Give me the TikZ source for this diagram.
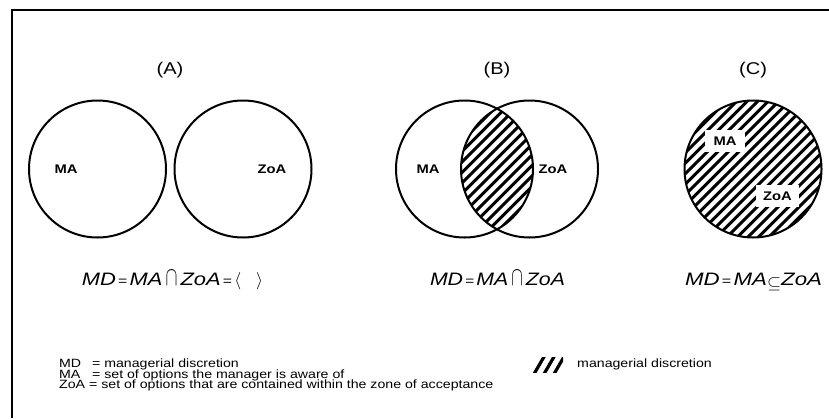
\documentclass[tikz,border=0pt]{standalone}
\usepackage{fontspec}
\setmainfont{Liberation Sans}
\newfontfamily\widesans[FakeStretch=1.18]{Liberation Sans}
\usepackage{graphicx}
\usepackage{calc}
% small equals sign and cap-high intersection sign used in the set formulas
\newcommand{\eqsign}{{\fontsize{13}{13}\selectfont\upshape\,=\,}}
\newcommand{\tallcap}{\,\scalebox{1}[1.55]{$\cap$}\,}
\tikzset{
  ring/.style={line width=2pt},
  hatchline/.style={line width=3pt},
  title/.style={font=\widesans\fontsize{17}{17}\selectfont, inner sep=0pt},
  setname/.style={font=\widesans\bfseries\fontsize{12.5}{12.5}\selectfont, inner sep=0pt},
  whitetag/.style={setname, fill=white, minimum height=22pt},
  formula/.style={font=\widesans\itshape\fontsize{18}{18}\selectfont, inner sep=0pt, anchor=base},
  legend/.style={font=\widesans\fontsize{12}{12}\selectfont, inner sep=0pt, anchor=base west},
}
\begin{document}
\begin{tikzpicture}[x=1pt,y=-1pt]
\useasboundingbox[fill=white] (0,0) rectangle (829,418);
% frame
\draw[line width=2pt] (12,418) -- (12,10) -- (829,10);

% ---- (A) disjoint sets
\node[title] (tA) at (170,70) {(A)};
\draw[ring] (97.5,169) circle[radius=68.5pt];
\draw[ring] (243,169) circle[radius=68.5pt];
\node[setname] (maA) at (66,169) {MA};
\node[setname] (zoaA) at (272,169) {ZoA};
\node[formula] (fA) at (172.5,285)
  {\resizebox{181pt}{\height}{MD\eqsign MA\tallcap ZoA\eqsign$\bigl\langle\;\;\;\bigr\rangle$}};

% ---- (B) overlapping sets, intersection hatched
\node[title] (tB) at (497,70) {(B)};
\begin{scope}
  \clip (464.5,169) circle[radius=68.5pt];
  \clip (529.5,169) circle[radius=68.5pt];
  \foreach \k in {-10,...,10}
    \draw[hatchline] ({497+\k*10.5-80},249) -- ({497+\k*10.5+80},89);
\end{scope}
\draw[ring] (464.5,169) circle[radius=68.5pt];
\draw[ring] (529.5,169) circle[radius=68.5pt];
\node[setname] (maB) at (428,169) {MA};
\node[setname] (zoaB) at (553,169) {ZoA};
\node[formula] (fB) at (497.5,285)
  {\resizebox{135pt}{\height}{MD\eqsign MA\tallcap ZoA}};

% ---- (C) coinciding sets, fully hatched
\node[title] (tC) at (753,70) {(C)};
\begin{scope}
  \clip (753,169) circle[radius=68.5pt];
  \foreach \k in {-10,...,10}
    \draw[hatchline] ({753+\k*10.5-80},249) -- ({753+\k*10.5+80},89);
\end{scope}
\node[whitetag, minimum width=40pt] (maC) at (725,141) {MA};
\node[whitetag, minimum width=43pt] (zoaC) at (777.5,196) {ZoA};
\draw[ring] (753,169) circle[radius=68.5pt];
\node[formula] (fC) at (753.5,285)
  {\resizebox{137pt}{\height}{MD\eqsign MA\raisebox{-3pt}{$\subseteq$}ZoA}};

% ---- key
\node[legend] (keyMD) at (59,367.5) {\makebox[\widthof{ZoA }+3pt][l]{MD}= managerial discretion};
\node[legend] (keyMA) at (59,378) {\makebox[\widthof{ZoA }+3pt][l]{MA}= set of options the manager is aware of};
\node[legend] (keyZoA) at (59,388.5) {ZoA = set of options that are contained within the zone of acceptance};
\begin{scope}
  \clip (533,357) rectangle (563,372);
  \foreach \k in {0,1,2}
    \draw[line width=3.2pt] ({534+\k*10},374) -- ({545+\k*10},355);
\end{scope}
\node[legend] (keyHatch) at (577,367.5) {managerial discretion};
\end{tikzpicture}
\end{document}
